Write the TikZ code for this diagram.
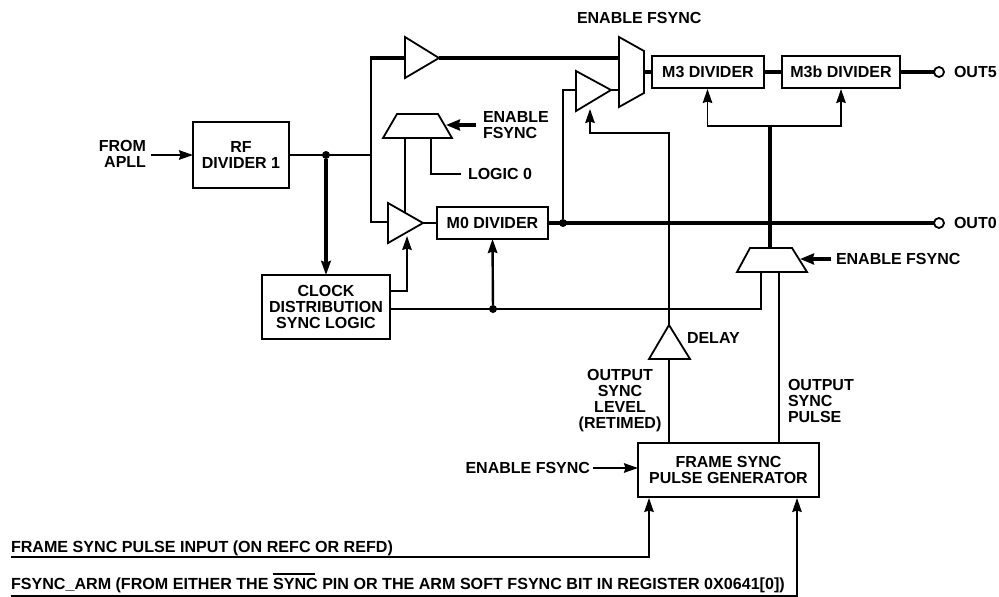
\documentclass[tikz,border=0pt]{standalone}
\usepackage{fontspec}
\setmainfont{Liberation Sans}
\usetikzlibrary{arrows.meta,calc}
\tikzset{
  wire/.style={line width=1.8pt,line cap=butt,line join=miter},
  midwire/.style={line width=2.4pt,line cap=butt,line join=miter},
  bus/.style={line width=3.2pt,line cap=butt,line join=miter},
  arr/.style={-{Stealth[length=14pt,width=9.5pt,inset=1.5pt]}},
  block/.style={draw,line width=1.8pt,rectangle,inner sep=0pt,outer sep=0pt,align=center,fill=white},
  shapeline/.style={draw,line width=1.8pt,fill=white,line join=miter},
  dotmark/.style={circle,fill=black,inner sep=0pt,minimum size=8pt,outer sep=0pt},
  ring/.style={circle,draw,line width=1.8pt,fill=white,inner sep=0pt,minimum size=10pt,outer sep=0pt},
  lbl/.style={inner sep=0pt,outer sep=0pt,align=center},
  lbll/.style={inner sep=0pt,outer sep=0pt,align=left},
}
\newcommand{\lblfont}{\fontsize{16}{16}\selectfont\bfseries}
\newcommand{\bigfs}{\fontsize{16.1}{16.1}\selectfont}
\begin{document}
\begin{tikzpicture}[x=1pt,y=-1pt,font=\lblfont]
\useasboundingbox (0,0) rectangle (999,597);
% blocks
\node[block,minimum width=96pt,minimum height=66pt] (rf) at (241,155) {\raisebox{3pt}{\parbox{90pt}{\centering RF\\DIVIDER 1}}};
\node[block,minimum width=128pt,minimum height=64pt] (clk) at (326,307) {CLOCK\\DISTRIBUTION\\SYNC LOGIC};
\node[block,minimum width=111pt,minimum height=32pt] (m0) at (492.5,223) {M0 DIVIDER};
\node[block,minimum width=112pt,minimum height=32pt] (m3) at (708,72) {M3 DIVIDER};
\node[block,minimum width=118pt,minimum height=32pt] (m3b) at (841,72) {M3b DIVIDER};
\node[block,minimum width=181pt,minimum height=54pt] (fsg) at (728.5,470) {FRAME SYNC\\PULSE GENERATOR};
% named points
\coordinate (apll) at (151,155);
\node[dotmark] (d1) at (326,155) {};
\coordinate (j1) at (371,155);
\coordinate (t1in) at (405,58);
\coordinate (t1out) at (439,58);
\coordinate (mxa) at (619,58);
\coordinate (mxb) at (619,90);
\coordinate (mxo) at (644,72);
\coordinate (t2in) at (576,90);
\coordinate (t2out) at (611,90);
\coordinate (t3in) at (388,222);
\coordinate (t3out) at (423,223);
\node[dotmark] (d2) at (563,223) {};
\node[dotmark] (d3) at (493,309) {};
\node[ring] (o5) at (939,72) {};
\node[ring] (o0) at (939,223) {};
% wires
\draw[wire,arr] (apll) -- (rf.west);
\draw[wire] (rf.east |- d1) -- (j1);
\draw[bus,arr] (d1) -- (clk.north);
\draw[wire] (j1) -- (371,58);
\draw[wire] (j1) -- (371,222) -- (t3in);
\draw[bus] (370,58) -- (t1in);
\draw[bus] (t1out) -- (mxa);
\draw[bus] (mxo) -- (m3.west);
\draw[bus] (m3.east) -- (m3b.west);
\draw[bus] (m3b.east) -- (o5.west);
\draw[wire] (t2out) -- (mxb);
\draw[wire] (d2) -- (563,90) -- (t2in);
\draw[wire] (t3out) -- (m0.west);
\draw[bus] (m0.east) -- (o0.west);
\draw[wire] (405,138) -- (405,213);
\draw[wire] (431,138) -- (431,174) -- (461,174);
\draw[wire,arr] (clk.east |- 0,291) -- (407,291) -- (407,236);
\draw[wire] (clk.east |- d3) -- (761,309) -- (761,272);
\draw[midwire,arr] (d3) -- (m0.south);
% fsync arrows
\draw[bus,-{Stealth[length=14pt,width=11pt,inset=1.5pt]}] (476,125) -- (446,125);
\draw[bus,-{Stealth[length=14pt,width=11pt,inset=1.5pt]}] (831,259) -- (800,259);
\draw[wire,arr] (593,468) -- (fsg.west |- 0,468);
% sync paths
\draw[wire] (fsg.north -| 669,0) -- (669,359);
\draw[wire,arr] (669,325) -- (669,133) -- (590,133) -- (590,109);
\draw[wire] (fsg.north -| 779,0) -- (779,272);
\draw[bus] (770,248) -- (770,125);
\draw[wire,arr] (770,126) -- (707.5,126) -- (707.5,89);
\draw[wire,arr] (770,126) -- (841,126) -- (841,89);
% bottom inputs
\draw[wire,arr] (11,557) -- (649,557) -- (649,498);
\draw[wire,arr] (11,596) -- (797,596) -- (797,498);
% buffers and muxes
\draw[shapeline] (405,37) -- (t1out) -- (405,78) -- cycle;
\draw[shapeline] (576,71) -- (t2out) -- (576,111) -- cycle;
\draw[shapeline] (388,203) -- (t3out) -- (388,243) -- cycle;
\draw[shapeline] (669,325) -- (690,359) -- (649,359) -- cycle;
\draw[shapeline] (619,37) -- (644,51) -- (644,93) -- (619,107) -- cycle;
\draw[shapeline] (397,114) -- (438,114) -- (452,138) -- (383,138) -- cycle;
\draw[shapeline] (750,248) -- (792,248) -- (807,272) -- (737,272) -- cycle;
% labels
\node[inner sep=0pt,outer sep=0pt,align=right,anchor=east] (tapll) at (146,153.5) {FROM\\APLL};
\node[lbll,anchor=base west] (ten1) at (577,23.5) {ENABLE FSYNC};
\node[lbll,anchor=west] (ten2) at (483,125.5) {ENABLE\\FSYNC};
\node[lbll,anchor=base west] (tlog) at (468,179.5) {LOGIC 0};
\node[lbll,anchor=base west] (to5) at (954,77.5) {OUT5};
\node[lbll,anchor=base west] (to0) at (954,228.5) {OUT0};
\node[lbll,anchor=base west] (ten3) at (836,264.5) {ENABLE FSYNC};
\node[lbll,anchor=base west] (tdel) at (687,343.5) {DELAY};
\node[lbl,anchor=center] (tlvl) at (620,400.5) {OUTPUT\\SYNC\\LEVEL\\(RETIMED)};
\node[lbll,anchor=west] (tpul) at (788,401) {OUTPUT\\SYNC\\PULSE};
\node[lbll,anchor=base east] (ten4) at (590,473.5) {ENABLE FSYNC};
\node[lbll,anchor=base west] (tfs) at (11,552.7) {\bigfs FRAME SYNC PULSE INPUT (ON REFC OR REFD)};
\node[lbll,anchor=base west] (tarm) at (11,589.5) {\bigfs FSYNC\_ARM (FROM EITHER THE \rlap{\rule[15pt]{42pt}{1.5pt}}SYNC PIN OR THE ARM SOFT FSYNC BIT IN REGISTER 0X0641[0])};
\end{tikzpicture}
\end{document}
